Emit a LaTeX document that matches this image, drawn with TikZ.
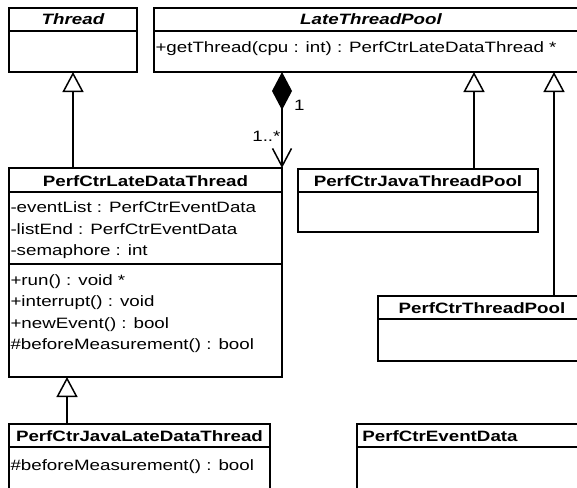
\documentclass[tikz,border=0pt]{standalone}
\usepackage{fontspec}
\setmainfont[FakeStretch=1.25]{Liberation Sans}
\usetikzlibrary{arrows.meta}
\begin{document}
\begin{tikzpicture}[x=1pt,y=-1pt,
  every node/.style={inner sep=0pt, outer sep=0pt},
  cls/.style={draw, line width=1.5pt, anchor=north west, fill=white},
  sep/.style={line width=1.5pt},
  ttl/.style={anchor=base, font=\fontsize{15}{18}\selectfont\bfseries},
  ittl/.style={anchor=base, font=\fontsize{15}{18}\selectfont\bfseries\itshape},
  mem/.style={anchor=base west, font=\fontsize{15}{18}\selectfont},
  lbl/.style={font=\fontsize{15}{18}\selectfont},
  inh/.style={line width=1.5pt, -{Triangle[open, length=20pt, width=21pt]}},
  comp/.style={line width=1.5pt, {Diamond[length=38pt, width=20pt]}-{Straight Barb[length=18pt, width=19pt]}}
]
\useasboundingbox (0,0) rectangle (577,487);
\clip (0,0) rectangle (577,487);

% classes
\node[cls, minimum width=128pt, minimum height=64pt] (thread) at (9,8) {};
\draw[sep] (thread.west |- 0,31) -- (thread.east |- 0,31);
\node[ittl] (threadT) at (73,25) {Thread};

\node[cls, minimum width=434pt, minimum height=64pt] (latepool) at (154,8) {};
\draw[sep] (latepool.west |- 0,31) -- (latepool.east |- 0,31);
\node[ittl] (latepoolT) at (371,25) {LateThreadPool};
\node[mem] (latepoolM1) at (155.5,52.5) {+getThread(cpu : int) : PerfCtrLateDataThread *};

\node[cls, minimum width=273pt, minimum height=209pt] (latedata) at (9,168) {};
\draw[sep] (latedata.west |- 0,192) -- (latedata.east |- 0,192);
\draw[sep] (latedata.west |- 0,264) -- (latedata.east |- 0,264);
\node[ttl] (latedataT) at (145.5,186) {PerfCtrLateDataThread};
\node[mem] (ldA1) at (10.5,212.5) {-eventList : PerfCtrEventData};
\node[mem] (ldA2) at (10.5,234) {-listEnd : PerfCtrEventData};
\node[mem] (ldA3) at (10.5,255.5) {-semaphore : int};
\node[mem] (ldM1) at (10.5,285) {+run() : void *};
\node[mem] (ldM2) at (10.5,306.5) {+interrupt() : void};
\node[mem] (ldM3) at (10.5,328) {+newEvent() : bool};
\node[mem] (ldM4) at (10.5,349.5) {\#beforeMeasurement() : bool};

\node[cls, minimum width=240pt, minimum height=63pt] (jpool) at (298,169) {};
\draw[sep] (jpool.west |- 0,192) -- (jpool.east |- 0,192);
\node[ttl] (jpoolT) at (418,186) {PerfCtrJavaThreadPool};

\node[cls, minimum width=208pt, minimum height=65pt] (tpool) at (378,296) {};
\draw[sep] (tpool.west |- 0,319) -- (tpool.east |- 0,319);
\node[ttl] (tpoolT) at (482,313) {PerfCtrThreadPool};

\node[cls, minimum width=261pt, minimum height=80pt] (javalate) at (9,424) {};
\draw[sep] (javalate.west |- 0,447) -- (javalate.east |- 0,447);
\node[ttl] (javalateT) at (139.5,441) {PerfCtrJavaLateDataThread};
\node[mem] (jlM1) at (10.5,470) {\#beforeMeasurement() : bool};

\node[cls, minimum width=250pt, minimum height=80pt] (eventdata) at (357,424) {};
\draw[sep] (eventdata.west |- 0,447) -- (eventdata.east |- 0,447);
\node[ttl] (eventdataT) at (440,441) {PerfCtrEventData};

% connectors
\draw[inh] (latedata.north -| thread.south) -- (thread.south);
\draw[inh] (javalate.north -| 67,0) -- (latedata.south -| 67,0);
\draw[inh] (jpool.north -| 474,0) -- (latepool.south -| 474,0);
\draw[inh] (tpool.north -| 554,0) -- (latepool.south -| 554,0);
\draw[comp] (latepool.south -| latedata.north east) -- (latedata.north east);
\node[lbl, anchor=base west] (mult1) at (294,110) {1};
\node[lbl, anchor=base east] (multN) at (280.5,141.5) {1..*};
\end{tikzpicture}
\end{document}
